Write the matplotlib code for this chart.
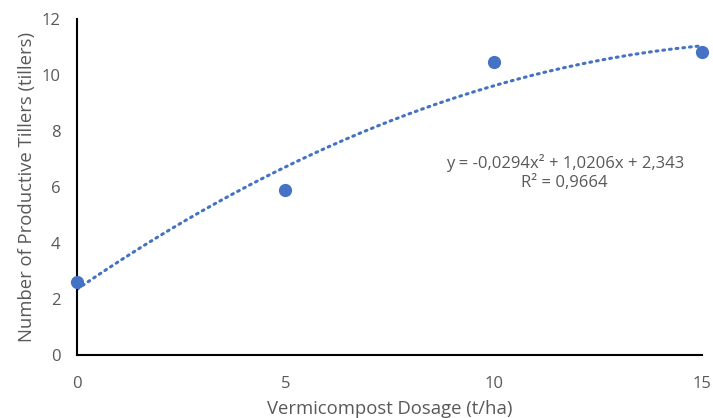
import numpy as np
import matplotlib.pyplot as plt

# Data
dosage = [0, 5, 10, 15]
tillers = [2.6, 5.9, 10.45, 10.8]
# trendline coefficients shown on the chart
coef = [-0.0294, 1.0206, 2.343]
eq_text = "y = -0,0294x² + 1,0206x + 2,343"
r2_text = "R² = 0,9664"

blue = '#4472C4'
grey = '#595959'

plt.rcParams['font.family'] = ['Open Sans', 'DejaVu Sans']

fig = plt.figure(figsize=(7.13, 4.18), dpi=100)
ax = fig.add_axes([0.108, 0.151, 0.877, 0.804])

# trendline
xs = np.linspace(0, 15, 200)
ax.plot(xs, np.polyval(coef, xs), color=blue, lw=2.2, linestyle=(0, (0.6, 1.6)),
        dash_capstyle='round', zorder=2)

# points
ax.plot(dosage, tillers, 'o', color=blue, markersize=8.5, zorder=3, clip_on=False)

ax.set_xlim(0, 15)
ax.set_ylim(0, 12)
ax.set_xticks([0, 5, 10, 15])
ax.set_yticks(range(0, 13, 2))
ax.tick_params(length=0, labelsize=12, labelcolor=grey)
ax.tick_params(axis='x', pad=15)
ax.tick_params(axis='y', pad=12)
for s in ['top', 'right']:
    ax.spines[s].set_visible(False)
for s in ['left', 'bottom']:
    ax.spines[s].set_color('black')
    ax.spines[s].set_linewidth(1.5)

ax.set_xlabel('Vermicompost Dosage (t/ha)', fontsize=13.3, color=grey, labelpad=6)
ax.set_ylabel('Number of Productive Tillers (tillers)', fontsize=13.3, color=grey,
              labelpad=4)

# trendline equation
ax.text(11.7, 6.86, eq_text, ha='center', va='center', fontsize=12, color=grey)
ax.text(11.7, 6.14, r2_text, ha='center', va='center', fontsize=12, color=grey)

fig.savefig('out.png', dpi=100)
